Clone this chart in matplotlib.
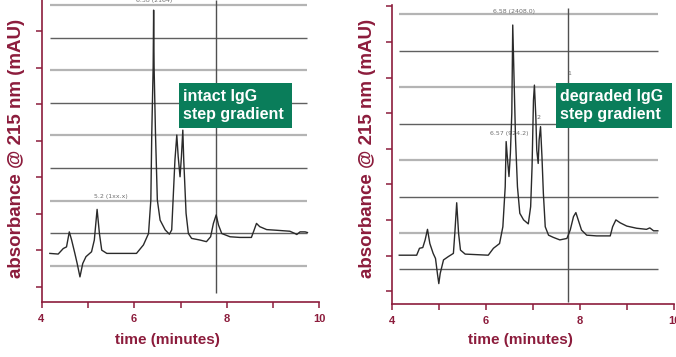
import matplotlib.pyplot as plt
from matplotlib.patches import Rectangle

MAROON = "#8c1c3c"
GREEN = "#0a7d5a"

# intact IgG trace (time in minutes, absorbance in grid units)
t_intact = [4.18, 4.36, 4.47, 4.54, 4.60, 4.65, 4.72, 4.77, 4.83, 4.89, 4.96,
            5.08, 5.14, 5.20, 5.25, 5.30, 5.41, 6.05, 6.20, 6.31, 6.36, 6.38,
            6.41, 6.42, 6.43, 6.46, 6.50, 6.56, 6.67, 6.76, 6.81, 6.84, 6.88,
            6.92, 6.95, 6.99, 7.02, 7.05, 7.07, 7.12, 7.17, 7.24, 7.42, 7.56,
            7.65, 7.71, 7.77, 7.82, 7.89, 8.07, 8.28, 8.53, 8.59, 8.64, 8.71,
            8.86, 9.07, 9.36, 9.47, 9.51, 9.58, 9.69, 9.74]
a_intact = [0.38, 0.36, 0.53, 0.58, 1.04, 0.79, 0.38, 0.07, -0.34, 0.07, 0.28,
            0.43, 0.79, 1.73, 0.99, 0.48, 0.38, 0.38, 0.64, 0.99, 2.02, 4.06,
            6.10, 7.84, 6.10, 4.06, 2.02, 1.40, 1.10, 0.97, 1.10, 2.02, 3.24,
            4.01, 3.35, 2.73, 3.35, 4.16, 3.24, 1.61, 0.99, 0.84, 0.79, 0.74,
            0.89, 1.30, 1.56, 1.25, 0.99, 0.89, 0.87, 0.87, 1.10, 1.30, 1.20,
            1.11, 1.09, 1.06, 0.99, 0.96, 1.04, 1.04, 1.02]

# degraded IgG trace
t_degr = [4.16, 4.53, 4.59, 4.66, 4.71, 4.76, 4.81, 4.88, 4.93, 4.97, 5.00,
          5.03, 5.10, 5.20, 5.31, 5.34, 5.38, 5.42, 5.46, 5.56, 6.05, 6.16,
          6.29, 6.36, 6.41, 6.43, 6.46, 6.49, 6.52, 6.55, 6.57, 6.60, 6.63,
          6.67, 6.72, 6.80, 6.90, 6.95, 6.98, 7.01, 7.03, 7.06, 7.08, 7.11,
          7.13, 7.16, 7.19, 7.22, 7.26, 7.33, 7.43, 7.57, 7.72, 7.79, 7.86,
          7.91, 7.96, 8.03, 8.14, 8.35, 8.64, 8.69, 8.76, 8.85, 8.99, 9.20,
          9.41, 9.48, 9.56, 9.65]
a_degr = [0.39, 0.39, 0.58, 0.60, 0.81, 1.10, 0.71, 0.44, 0.30, -0.11, -0.39,
          -0.11, 0.26, 0.35, 0.44, 0.99, 1.83, 0.99, 0.53, 0.42, 0.39, 0.58,
          0.71, 1.17, 2.27, 3.51, 3.00, 2.55, 3.19, 4.29, 6.71, 5.11, 3.55,
          2.27, 1.54, 1.36, 1.25, 1.72, 2.82, 4.65, 5.06, 4.19, 3.28, 2.91,
          3.55, 3.92, 3.10, 2.09, 1.17, 0.94, 0.88, 0.81, 0.85, 1.08, 1.45,
          1.56, 1.36, 1.08, 0.94, 0.92, 0.92, 1.17, 1.36, 1.28, 1.19, 1.13,
          1.10, 1.14, 1.06, 1.06]

panels = [
    {"t": t_intact, "a": a_intact, "rect": [41.5, 302, 278, 302],
     "ylim": (-1.11, 8.15), "yticks": [-0.64 + 1.12 * i for i in range(8)],
     "grid": list(range(9)), "grid_x": (4.18, 9.73),
     "dark": [1, 3, 5, 7], "marker": (7.76, -0.84, 8.15),
     "label": "intact IgG\nstep gradient", "box": (179, 83, 113, 45),
     "ylab_x": 17, "xlab_x": 167,
     "notes": [(6.42, 8.05, "6.38 (2164)"), (5.5, 2.05, "5.2 (1xx.x)")]},
    {"t": t_degr, "a": a_degr, "rect": [391.7, 304, 282.6, 299],
     "ylim": (-0.95, 7.26), "yticks": [-0.6 + 0.978 * i for i in range(9)],
     "grid": list(range(8)), "grid_x": (4.16, 9.65),
     "dark": [0, 2, 4, 6], "marker": (7.74, -0.89, 7.17),
     "label": "degraded IgG\nstep gradient", "box": (556, 83, 116, 45),
     "ylab_x": 367, "xlab_x": 520,
     "notes": [(6.60, 7.02, "6.58 (2408.0)"), (6.49, 3.65, "6.57 (924.2)"),
               (7.76, 5.3, "1"), (7.12, 4.1, "2")]},
]

W, H = 676, 357
fig = plt.figure(figsize=(W / 100, H / 100), dpi=100)

for p in panels:
    x0, ybot, w, h = p["rect"]
    ax = fig.add_axes([x0 / W, (H - ybot) / H, w / W, h / H])
    ax.set_xlim(4, 10)
    ax.set_ylim(*p["ylim"])
    for s in ["top", "right"]:
        ax.spines[s].set_visible(False)
    for s in ["left", "bottom"]:
        ax.spines[s].set_color(MAROON)
        ax.spines[s].set_linewidth(1.2)

    # horizontal guide lines, alternating shades
    for g in p["grid"]:
        dark = g in p["dark"]
        ax.hlines(g, *p["grid_x"], color="#606060" if dark else "#b4b4b4",
                  lw=1.0 if dark else 1.6, zorder=1)
    mx, m0, m1 = p["marker"]
    ax.vlines(mx, m0, m1, color="#505050", lw=1.0, zorder=1)

    ax.plot(p["t"], p["a"], color="#2a2a2a", lw=1.0, zorder=3)

    for nx, ny, txt in p["notes"]:
        ax.text(nx, ny, txt, fontsize=4.5, color="#707070", ha="center",
                va="bottom", zorder=2)

    ax.set_xticks([4, 6, 8, 10])
    ax.set_xticks([5, 7, 9], minor=True)
    ax.set_yticks(p["yticks"])
    ax.set_yticklabels([])
    ax.tick_params(axis="both", which="both", color=MAROON, direction="out",
                   length=4, width=1.1)
    ax.tick_params(axis="x", labelcolor=MAROON, labelsize=8, pad=5)
    for lab in ax.get_xticklabels():
        lab.set_fontweight("bold")
        lab.set_family(["Liberation Sans", "DejaVu Sans"])

    bx, by, bw, bh = p["box"]
    fig.add_artist(Rectangle((bx / W, (H - by - bh) / H), bw / W, bh / H,
                             transform=fig.transFigure, facecolor=GREEN,
                             edgecolor="none", zorder=5))
    fig.text((bx + 4) / W, (H - by - bh / 2) / H, p["label"], color="white",
             fontsize=11.5, fontweight="bold", va="center", ha="left",
             linespacing=1.2, family=["Liberation Sans", "DejaVu Sans"],
             zorder=6)

    fig.text(p["ylab_x"] / W, (H - 148) / H, "absorbance @ 215 nm (mAU)",
             rotation=90, color=MAROON, fontsize=13.5, fontweight="bold",
             ha="center", va="center", family=["Liberation Sans", "DejaVu Sans"])
    fig.text(p["xlab_x"] / W, (H - 340) / H, "time (minutes)", color=MAROON,
             fontsize=11, fontweight="bold", ha="center", va="center",
             family=["Liberation Sans", "DejaVu Sans"])

fig.savefig("out.png", dpi=100)
